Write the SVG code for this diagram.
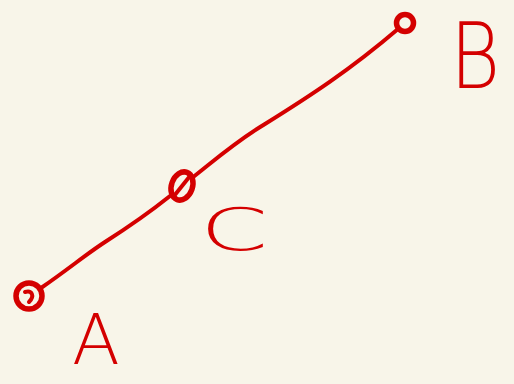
<svg xmlns="http://www.w3.org/2000/svg" width="514" height="384" viewBox="0 0 514 384">
<style>
.n{fill:none;stroke:#d40000;stroke-width:4;stroke-linecap:round;stroke-linejoin:round}
.k{fill:none;stroke:#d40000;stroke-width:5.5}
.t{fill:#d40000;font-family:"DejaVu Sans","Liberation Sans",sans-serif;font-weight:200}
</style>
<rect width="514" height="384" fill="#f8f5e9"/>
<g id="edges">
<path class="n" d="M41,288 C70,268 85,255 105,242 C130,226 150,212 170,196"/>
<path class="n" d="M192,178 C215,160 235,142 265,124 C310,96 350,70 398,29"/>
</g>
<g id="A">
<circle class="k" cx="29" cy="296" r="13"/>
<path class="n" d="M25,292 C32,290 35,296 29,302"/>
<text class="t" x="72" y="364" font-size="70">A</text>
</g>
<g id="C">
<ellipse class="k" cx="182" cy="186" rx="10.5" ry="14.5" transform="rotate(20 182 186)"/>
<path class="n" d="M174,196 L190,176"/>
<text class="t" transform="translate(200,250) scale(1.25,0.75)" font-size="78">C</text>
</g>
<g id="B">
<circle class="k" cx="405" cy="23" r="8.5"/>
<text class="t" transform="translate(450,88) scale(0.85,1)" font-size="90">B</text>
</g>
</svg>
